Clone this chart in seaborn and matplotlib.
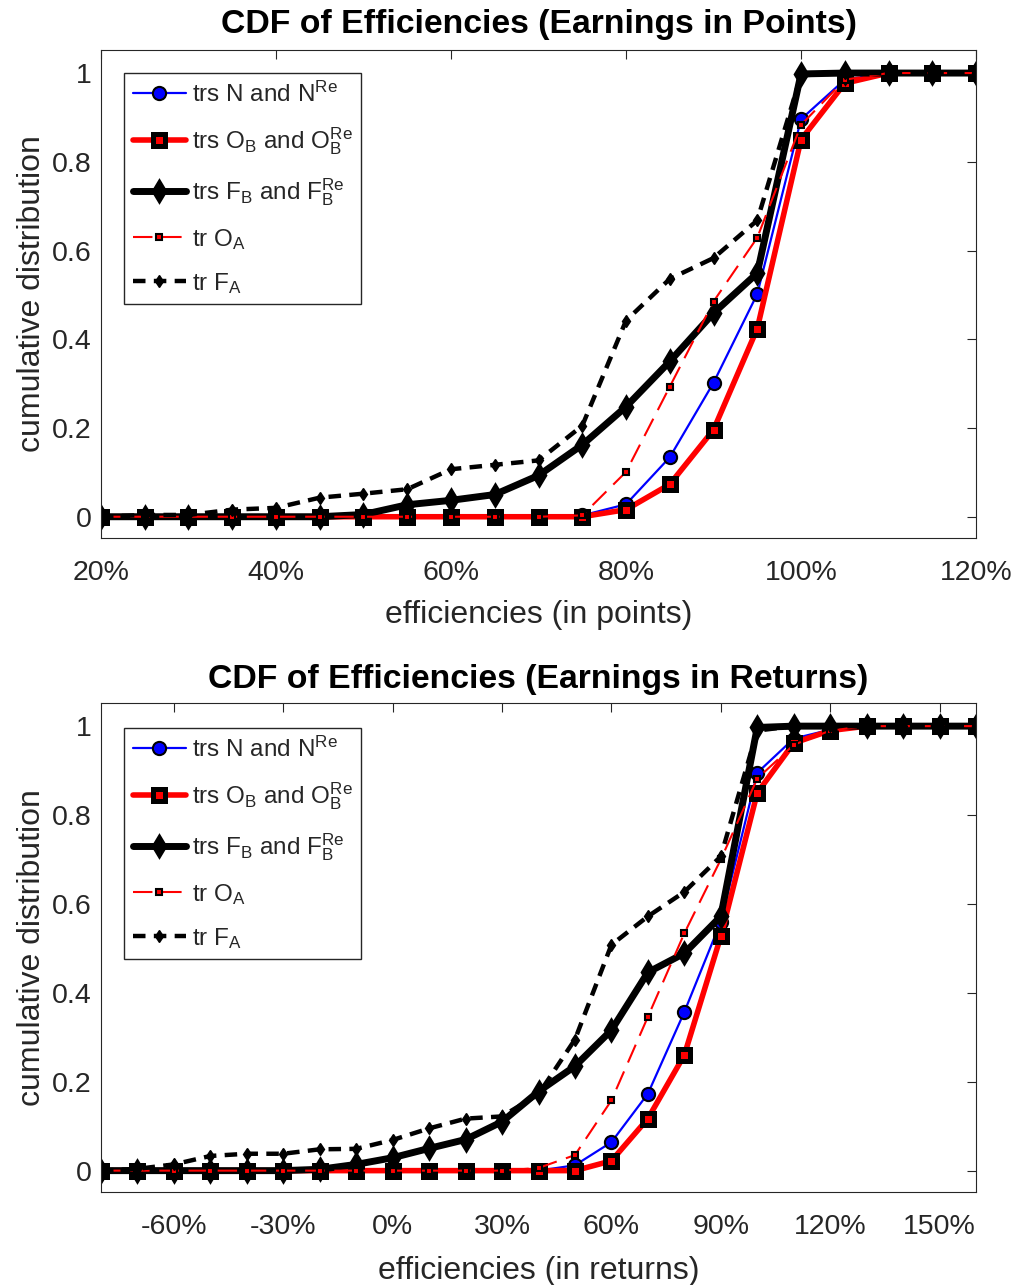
import matplotlib
matplotlib.use("Agg")
import matplotlib.pyplot as plt
import numpy as np
import pandas as pd
import seaborn as sns

# ---------------- data ----------------
x_points = [20, 25, 30, 35, 40, 45, 50, 55, 60, 65, 70, 75, 80, 85, 90, 95, 100, 105, 110, 115, 120]
pts_N  = [0, 0, 0, 0, 0, 0, 0, 0, 0, 0, 0, 0.003, 0.028, 0.134, 0.302, 0.502, 0.896, 0.985, 1, 1, 1]
pts_OB = [0, 0, 0, 0, 0, 0, 0, 0, 0, 0, 0, 0, 0.016, 0.073, 0.196, 0.424, 0.850, 0.977, 1, 1, 1]
pts_FB = [0, 0, 0, 0, 0, 0, 0.005, 0.027, 0.037, 0.050, 0.093, 0.162, 0.248, 0.350, 0.459, 0.549, 0.998, 1, 1, 1, 1]
pts_OA = [0, 0, 0, 0, 0, 0, 0, 0, 0, 0, 0, 0.003, 0.101, 0.293, 0.485, 0.629, 0.883, 0.985, 1, 1, 1]
pts_FA = [0, 0.004, 0.004, 0.016, 0.020, 0.043, 0.052, 0.062, 0.107, 0.117, 0.127, 0.205, 0.442, 0.536, 0.583, 0.668, 0.995, 1, 1, 1, 1]

x_returns = [-80, -70, -60, -50, -40, -30, -20, -10, 0, 10, 20, 30, 40, 50, 60, 70, 80, 90, 100, 110, 120, 130, 140, 150, 160]
ret_N  = [0, 0, 0, 0, 0, 0, 0, 0, 0, 0, 0, 0, 0, 0.012, 0.064, 0.173, 0.357, 0.560, 0.895, 0.972, 0.992, 1, 1, 1, 1]
ret_OB = [0, 0, 0, 0, 0, 0, 0, 0, 0, 0, 0, 0, 0, 0, 0.022, 0.117, 0.260, 0.527, 0.850, 0.962, 0.990, 1, 1, 1, 1]
ret_FB = [0, 0, 0, 0, 0, 0, 0.003, 0.014, 0.029, 0.050, 0.070, 0.110, 0.178, 0.235, 0.316, 0.446, 0.489, 0.572, 0.997, 1, 1, 1, 1, 1, 1]
ret_OA = [0, 0, 0, 0, 0, 0, 0, 0, 0, 0, 0, 0, 0.006, 0.035, 0.158, 0.346, 0.534, 0.700, 0.882, 0.958, 0.990, 1, 1, 1, 1]
ret_FA = [0, 0.004, 0.014, 0.033, 0.038, 0.038, 0.048, 0.049, 0.069, 0.095, 0.117, 0.122, 0.172, 0.295, 0.508, 0.572, 0.627, 0.707, 0.990, 1, 1, 1, 1, 1, 1]

series_labels = [
    r"trs N and N$^{\mathrm{Re}}$",
    r"trs O$_{\mathrm{B}}$ and O$_{\mathrm{B}}^{\mathrm{Re}}$",
    r"trs F$_{\mathrm{B}}$ and F$_{\mathrm{B}}^{\mathrm{Re}}$",
    r"tr O$_{\mathrm{A}}$",
    r"tr F$_{\mathrm{A}}$",
]

pts_xticks = [20, 40, 60, 80, 100, 120]
pts_xticklabels = ["20%", "40%", "60%", "80%", "100%", "120%"]
ret_xticks = [-60, -30, 0, 30, 60, 90, 120, 150]
ret_xticklabels = ["-60%", "-30%", "0%", "30%", "60%", "90%", "120%", "150%"]
yticks = [0, 0.2, 0.4, 0.6, 0.8, 1]
yticklabels = ["0", "0.2", "0.4", "0.6", "0.8", "1"]

titles = ["CDF of Efficiencies (Earnings in Points)", "CDF of Efficiencies (Earnings in Returns)"]
xlabels = ["efficiencies (in points)", "efficiencies (in returns)"]
ylabel = "cumulative distribution"

# ---------------- style ----------------
sns.set_theme(style="white")
plt.rcParams["font.family"] = ["Liberation Sans", "DejaVu Sans"]
plt.rcParams["mathtext.fontset"] = "custom"
plt.rcParams["mathtext.rm"] = "Liberation Sans"
plt.rcParams["mathtext.it"] = "Liberation Sans:italic"
plt.rcParams["mathtext.bf"] = "Liberation Sans:bold"
plt.rcParams["lines.scale_dashes"] = False

styles = [
    dict(color="blue", marker="o", markersize=9.5, markerfacecolor="blue", markeredgecolor="black",
         markeredgewidth=1.5, linewidth=1.6, linestyle="-"),
    dict(color="red", marker="s", markersize=8.5, markerfacecolor="red", markeredgecolor="black",
         markeredgewidth=3.6, linewidth=4.0, linestyle="-"),
    dict(color="black", marker="d", markersize=10.5, markerfacecolor="black", markeredgecolor="black",
         markeredgewidth=2.5, linewidth=5.0, linestyle="-"),
    dict(color="red", marker="s", markersize=5, markerfacecolor="red", markeredgecolor="black",
         markeredgewidth=1.5, linewidth=1.5, linestyle=(0, (14, 7))),
    dict(color="black", marker="d", markersize=6.5, markerfacecolor="black", markeredgecolor="black",
         markeredgewidth=1.0, linewidth=3.2, linestyle=(0, (9, 6))),
]

fig = plt.figure(figsize=(10.17, 12.85), dpi=100)
ax1 = fig.add_axes([0.0993, 0.5813, 0.8604, 0.3798])
ax2 = fig.add_axes([0.0993, 0.0724, 0.8604, 0.3805])

panels = [
    (ax1, x_points, [pts_N, pts_OB, pts_FB, pts_OA, pts_FA], (20, 120), pts_xticks, pts_xticklabels, 0.953, 12.5, 10),
    (ax2, x_returns, [ret_N, ret_OB, ret_FB, ret_OA, ret_FA], (-80, 160), ret_xticks, ret_xticklabels, 0.949, 11, 11.5),
]

for i, (ax, xs, ys_list, xlim, xt, xtl, leg_top, tpad, xlpad) in enumerate(panels):
    for ys, lab, st in zip(ys_list, series_labels, styles):
        df = pd.DataFrame({"x": xs, "y": ys})
        sns.lineplot(data=df, x="x", y="y", ax=ax, label=lab, estimator=None, **st)
    ax.set_xlim(*xlim)
    ax.set_ylim(-0.048, 1.052)
    ax.set_xticks(xt)
    ax.set_xticklabels(xtl)
    ax.set_yticks(yticks)
    ax.set_yticklabels(yticklabels)
    ax.tick_params(axis="both", direction="in", length=6.5, width=0.8, top=True, right=True,
                   labelsize=20.5, color="#262626", labelcolor="#262626")
    ax.tick_params(axis="x", pad=16)
    ax.tick_params(axis="y", pad=7)
    for s in ax.spines.values():
        s.set_color("#262626")
        s.set_linewidth(0.8)
    ax.set_title(titles[i], fontsize=24.3, fontweight="bold", color="black", pad=tpad)
    ax.set_xlabel(xlabels[i], fontsize=23, color="#262626", labelpad=xlpad)
    ax.set_ylabel(ylabel, fontsize=23, color="#262626", labelpad=3)
    leg = ax.legend(loc="upper left", bbox_to_anchor=(0.0263, leg_top), borderaxespad=0,
                    fontsize=17.5, frameon=True, fancybox=False, framealpha=1,
                    edgecolor="#262626", handlelength=2.2, handletextpad=0.25,
                    labelspacing=0.78, borderpad=0.35)
    leg.get_frame().set_linewidth(1.0)

fig.savefig("out.png", dpi=100)
